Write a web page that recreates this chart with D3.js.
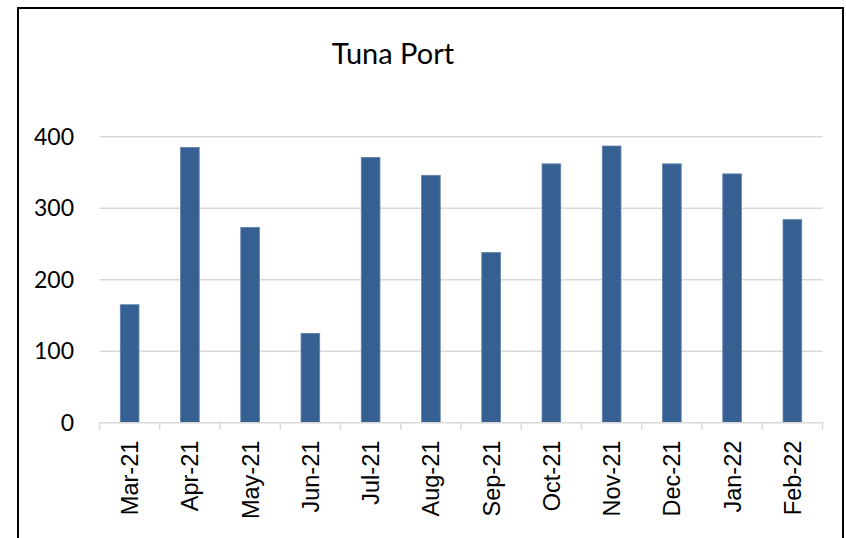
<!DOCTYPE html>
<html>
<head>
<meta charset="utf-8">
<style>
body { margin: 0; background: #fff; }
svg { display: block; }
.grid line { stroke: #d9d9d9; stroke-width: 1.5px; }
.yaxis text { font-family: Lato, "Open Sans", sans-serif; font-size: 23px; fill: #000; }
.xaxis text { font-family: "Liberation Sans", Arial, sans-serif; font-size: 23.5px; fill: #000; }
.title { font-family: Lato, "Open Sans", sans-serif; font-size: 29px; fill: #000; }
</style>
</head>
<body>
<svg id="chart" width="846" height="538"></svg>
<script src="https://cdn.jsdelivr.net/npm/d3@7"></script>
<script>
// data
var months = ["Mar-21", "Apr-21", "May-21", "Jun-21", "Jul-21", "Aug-21",
              "Sep-21", "Oct-21", "Nov-21", "Dec-21", "Jan-22", "Feb-22"];
var arrivals = [165, 385, 273, 125, 371, 346, 238, 362, 387, 362, 348, 284];
var yTicks = [0, 100, 200, 300, 400];

var svg = d3.select("#chart");
var plotLeft = 99.5, plotRight = 822.5, plotTop = 136.7, plotBottom = 422.7;

// chart border
svg.append("path")
  .attr("d", "M18,538V8H843V538")
  .attr("fill", "none")
  .attr("stroke", "#000")
  .attr("stroke-width", 2);

var x = d3.scaleBand()
  .domain(months)
  .range([plotLeft, plotRight])
  .paddingInner(0.69)
  .paddingOuter(0.345);

var y = d3.scaleLinear()
  .domain([0, 400])
  .range([plotBottom, plotTop]);

// gridlines
svg.append("g").attr("class", "grid")
  .selectAll("line")
  .data(yTicks.filter(function(d) { return d > 0; }))
  .enter().append("line")
    .attr("x1", plotLeft).attr("x2", plotRight)
    .attr("y1", y).attr("y2", y);

// y labels
svg.append("g").attr("class", "yaxis")
  .selectAll("text")
  .data(yTicks)
  .enter().append("text")
    .attr("x", 74)
    .attr("y", function(d) { return y(d); })
    .attr("dy", "0.36em")
    .attr("text-anchor", "end")
    .text(function(d) { return d; });

// bars
svg.append("g")
  .selectAll("rect")
  .data(arrivals)
  .enter().append("rect")
    .attr("x", function(d, i) { return x(months[i]); })
    .attr("width", x.bandwidth())
    .attr("y", function(d) { return y(d); })
    .attr("height", function(d) { return y(0) - y(d); })
    .attr("fill", "#376092")
    .attr("stroke", "#5f82ad")
    .attr("stroke-width", 0.8);

// x axis line + ticks
var xa = svg.append("g").attr("class", "grid");
xa.append("line")
  .attr("x1", plotLeft).attr("x2", plotRight)
  .attr("y1", plotBottom).attr("y2", plotBottom);
var step = x.step();
xa.selectAll(".tk")
  .data(d3.range(months.length + 1))
  .enter().append("line")
    .attr("class", "tk")
    .attr("x1", function(i) { return plotLeft + i * step; })
    .attr("x2", function(i) { return plotLeft + i * step; })
    .attr("y1", plotBottom).attr("y2", plotBottom + 7);

// x labels
svg.append("g").attr("class", "xaxis")
  .selectAll("text")
  .data(months)
  .enter().append("text")
    .attr("transform", function(d) {
      return "translate(" + (x(d) + x.bandwidth() / 2) + "," + (plotBottom + 18) + ") rotate(-90)";
    })
    .attr("dy", "0.36em")
    .attr("text-anchor", "end")
    .text(function(d) { return d; });

// title
svg.append("text")
  .attr("class", "title")
  .attr("x", 393)
  .attr("y", 64)
  .attr("text-anchor", "middle")
  .text("Tuna Port");
</script>
</body>
</html>
